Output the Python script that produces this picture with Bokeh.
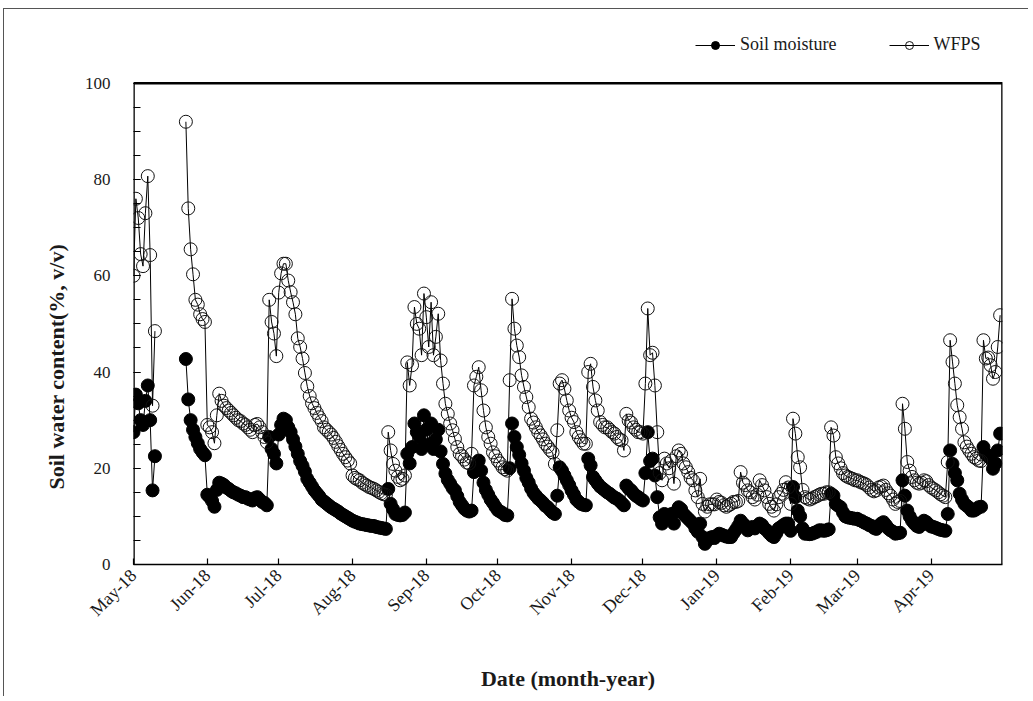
import math
import numpy as np
import pandas as pd
from bokeh.plotting import figure
from bokeh.models import (Range1d, FixedTicker, DatetimeTickFormatter, Legend,
                          LegendItem, Title, ColumnDataSource)
from bokeh.embed import file_html
from bokeh.resources import INLINE

# ---------------- data ----------------
start_a = "2018-05-01"
soil_a = [27.5, 35.3, 33.5, 30, 29, 34, 37.2, 30, 15.4, 22.5]
wfps_a = [60, 76, 72, 64.5, 62, 73, 80.7, 64.3, 33, 48.5]

start_b = "2018-05-23"
soil_b = [
    42.7, 34.3, 30, 28, 26.5, 25.2, 24, 23.3, 22.7, 14.5,
    14, 13.2, 12, 15.5, 17, 16.8, 16.5, 16, 15.7, 15.3,
    15, 14.8, 14.5, 14.3, 14, 14, 13.7, 13.5, 13.3, 13.8,
    14, 13.5, 13, 12.8, 12.3, 26.5, 24, 23, 21, 27,
    29, 30.3, 30, 28.5, 27.5, 26, 24.5, 23, 21.5, 20.5,
    19.3, 17.8, 17, 16.2, 15.4, 14.8, 14.2, 13.5, 13.1, 12.7,
    12.3, 11.9, 11.6, 11.3, 11, 10.6, 10.3, 10, 9.7, 9.4,
    9.1, 8.9, 8.7, 8.5, 8.4, 8.3, 8.2, 8.1, 8, 8,
    7.8, 7.7, 7.6, 7.5, 7.4, 15.7, 12.6, 11.5, 10.5, 10.3,
    10.2, 10.3, 10.8, 23, 21, 24.4, 29.3, 27.5, 26.5, 24,
    31, 28, 25, 29.3, 24, 26, 28, 23.5, 20.9, 18.9,
    17.6, 16.8, 15.9, 15.4, 14.2, 13, 12.3, 11.6, 11.2, 11,
    11.2, 19.2, 20.5, 21.6, 19.5, 17, 15.5, 14.5, 13.5, 12.8,
    12, 11.3, 11, 10.7, 10.3, 10.2, 20, 29.3, 26.5, 24.4,
    22.8, 21, 19.5, 18, 17, 15.8, 14.9, 14.3, 13.7, 13.3,
    12.8, 12.2, 11.9, 11.3, 10.8, 10.5, 14.3, 20.2, 19.5, 18.5,
    17.5, 16.5, 15.4, 14.5, 13.5, 13, 12.6, 12.4, 12.3, 22,
    20.6, 18.2, 17.5, 16.8, 16.2, 15.8, 15.4, 15, 14.7, 14.3,
    13.9, 13.7, 13.3, 12.8, 12.3, 16.4, 15.8, 15.4, 14.8, 14.3,
    14, 13.6, 13.3, 19, 27.5, 21.5, 22, 18.5, 14, 9.8,
    8.5, 10.5, 10, 9.5, 10.5, 8.5, 11, 11.9, 11.5, 10.5,
    10, 9.5, 9, 8.5, 7.5, 6.8, 8.5, 5.7, 4.3, 5,
    5.5, 5.7, 5.5, 6, 6.4, 6.2, 6, 5.8, 5.7, 5.7,
    6.5, 7.2, 8, 9.1, 8.5, 8, 7.1, 7.5, 7.8, 7.5,
    8, 8.5, 8.2, 7.5, 7.1, 6.5, 6, 5.7, 6.5, 7.5,
    7.8, 8.2, 8.5, 8.5, 7, 16.1, 14, 11.2, 10, 7.5,
    6.4, 6.4, 6.3, 6.4, 6.6, 6.8, 7.1, 7.1, 7, 7.1,
    7.3, 14.7, 14.3, 12.6, 12.2, 11.9, 10.8, 10, 9.8, 9.7,
    9.6, 9.5, 9.5, 9.2, 9, 8.7, 8.5, 8.2, 8, 7.6,
    7.4, 8, 8.5, 8.8, 8.2, 7.5, 7.1, 6.8, 6.4, 6.5,
    6.6, 17.5, 14.3, 11.2, 10, 9.1, 8.5, 8, 7.8, 8.5,
    9.1, 8.8, 8.3, 7.9, 7.8, 7.6, 7.4, 7.2, 7.1, 7,
    10.5, 23.7, 20.9, 19, 17.5, 14.7, 13.5, 12.6, 12.2, 11.8,
    11.2, 11.2, 11.5, 11.9, 12, 24.4, 23, 22.5, 22, 19.9,
    21, 23.7, 27.2,
]
wfps_b = [
    92, 74, 65.5, 60.3, 55, 54, 52, 51, 50.4, 29,
    28.5, 27.5, 25.2, 31, 35.5, 34, 33, 32.5, 32, 31.5,
    31, 30.5, 30, 29.8, 29.3, 29, 28.5, 28, 27.5, 29,
    29.2, 28.5, 27.5, 26.5, 25.4, 55, 50.4, 48, 43.3, 56.5,
    60.5, 62.5, 62.5, 59, 56.6, 54.5, 52, 47, 45.2, 42.8,
    39.8, 37, 35, 33.5, 32.5, 31.5, 30.6, 29.8, 28.5, 28,
    27.5, 27, 26.3, 25.5, 24.6, 23.8, 23, 22.3, 21.6, 21,
    18.5, 18, 17.7, 17.5, 17, 16.7, 16.4, 16.1, 15.9, 15.7,
    15.4, 15.1, 14.8, 14.6, 14.5, 27.5, 23.7, 20.9, 19.5, 18.2,
    17.5, 17.8, 18.5, 42, 37.2, 41.4, 53.5, 50, 49, 43.5,
    56.3, 51.4, 45.2, 54.5, 43.5, 47.3, 52.1, 42.4, 37.6, 33.4,
    31.3, 29.3, 27.9, 26.1, 24.4, 23, 22.5, 21.8, 21.2, 21,
    23, 37.2, 39, 41, 36.2, 32, 28.5, 26.5, 25.1, 23.3,
    22.5, 21.6, 21, 20.2, 19.8, 19.5, 38.3, 55.2, 49, 45.5,
    43.1, 39.3, 36.9, 34.8, 32.7, 30.3, 29.5, 28.5, 27.5, 26.8,
    26, 25.1, 24.5, 23.8, 23.3, 20.9, 27.9, 37.6, 38.3, 36.5,
    34.1, 32, 30.5, 29.6, 27.5, 26.5, 25.8, 25.1, 25.1, 40,
    41.7, 36.9, 34.1, 32, 29.6, 29, 28.5, 28.5, 28, 27.5,
    27.2, 26.5, 26, 25.8, 23.7, 31.3, 29.9, 29.5, 28.5, 28,
    27.5, 27.5, 27.2, 37.6, 53.2, 43.5, 44, 37.2, 27.5, 19,
    17.5, 22, 21, 20, 21.6, 16.8, 22.5, 23.7, 23, 21,
    20.2, 19.2, 18, 17.5, 15.4, 14, 17.8, 12.6, 11, 12,
    12.5, 12.5, 12.5, 13.5, 13, 12.8, 12.3, 12, 12.3, 12.6,
    13, 13, 13.2, 19.2, 17, 16.5, 15.4, 15, 14, 13.5,
    14.5, 17.5, 16.5, 15.4, 14, 12.6, 12, 11.2, 12.5, 14,
    14.7, 15.5, 17.1, 16, 12.6, 30.3, 27.2, 22.3, 20.2, 15.5,
    14, 13.7, 13.5, 13.7, 14, 14.2, 14.5, 14.7, 14.7, 15,
    15, 28.5, 26.8, 22.3, 21, 20, 19, 18.5, 18.2, 18,
    17.8, 17.5, 17.5, 17.2, 17, 16.8, 16.5, 16, 15.5, 15.2,
    15.4, 16, 16.2, 16.4, 15.5, 14.8, 14.3, 13.5, 12.6, 13,
    13.2, 33.4, 28.2, 21.3, 19.5, 18.2, 17.5, 17, 16.8, 17,
    17.5, 17.3, 16.5, 16, 15.7, 15.4, 15, 14.6, 14.3, 14,
    21.3, 46.6, 42.1, 37.6, 33.1, 30.6, 28.2, 25.4, 24.5, 23.7,
    23, 22.3, 22, 21.6, 21.5, 46.6, 42.8, 43, 41.4, 38.6,
    40, 45.2, 51.8,
]

tick_months = ["2018-05-01", "2018-06-01", "2018-07-01", "2018-08-01", "2018-09-01",
               "2018-10-01", "2018-11-01", "2018-12-01", "2019-01-01", "2019-02-01",
               "2019-03-01", "2019-04-01"]
y_ticks = [0, 20, 40, 60, 80, 100]
y_max = 100
x_start, x_end = pd.Timestamp("2018-05-01"), pd.Timestamp("2019-05-01")

# ---------------- build sources ----------------
dates_a = pd.date_range(start_a, periods=len(soil_a), freq="D")
dates_b = pd.date_range(start_b, periods=len(soil_b), freq="D")
gap_date = dates_a[-1] + pd.Timedelta(days=1)

x_all = list(dates_a) + [gap_date] + list(dates_b)
soil_all = list(soil_a) + [np.nan] + list(soil_b)
wfps_all = list(wfps_a) + [np.nan] + list(wfps_b)
src = ColumnDataSource(dict(x=x_all, soil=soil_all, wfps=wfps_all))

SERIF = "Liberation Serif"
INK = "#1a1a1a"

# The frame reaches up above the 0-100 box so that the legend sits inside it;
# the box itself (top and right edges, left axis line) is drawn as a line.
p = figure(width=1025, height=688, x_axis_type="datetime",
           output_backend="svg", toolbar_location=None,
           x_range=Range1d(x_start, x_end),
           y_range=Range1d(0, 112),
           min_border_left=129, min_border_right=27,
           min_border_top=16, min_border_bottom=133,
           background_fill_color="white", border_fill_color="white",
           styles={"margin-left": "3px", "margin-top": "8px",
                   "border-left": "1px solid #555", "border-top": "1px solid #555"})

p.xgrid.grid_line_color = None
p.ygrid.grid_line_color = None
p.outline_line_color = None

# x axis
p.xaxis.ticker = FixedTicker(ticks=[pd.Timestamp(m).value // 10**6 for m in tick_months])
fmt = "%b-%y"
p.xaxis.formatter = DatetimeTickFormatter(
    milliseconds=fmt, seconds=fmt, minsec=fmt, minutes=fmt, hourmin=fmt, hours=fmt,
    days=fmt, months=fmt, years=fmt)
p.xaxis.major_label_orientation = math.pi / 4
p.xaxis.major_tick_in = 6
p.xaxis.major_tick_out = 0
p.xaxis.major_label_standoff = 8
p.xaxis.axis_label = "Date (month-year)"
p.xaxis.axis_label_standoff = 36

# y axis
p.yaxis.ticker = FixedTicker(ticks=y_ticks, minor_ticks=list(range(0, 101, 5)))
p.yaxis.major_tick_in = 7
p.yaxis.major_tick_out = 0
p.yaxis.minor_tick_in = 7
p.yaxis.minor_tick_out = 0
p.yaxis.major_label_standoff = 23

for ax in (p.xaxis, p.yaxis):
    ax.axis_line_color = "black"
    ax.axis_line_width = 1.3
    ax.major_tick_line_color = "black"
    ax.major_tick_line_width = 1.2
    ax.minor_tick_line_color = "black"
    ax.minor_tick_line_width = 1.2
    ax.major_label_text_font = SERIF
    ax.major_label_text_color = INK
    ax.axis_label_text_font = SERIF
    ax.axis_label_text_font_style = "bold"
    ax.axis_label_text_font_size = "22px"
    ax.axis_label_text_color = INK
p.xaxis.minor_tick_line_color = None
p.yaxis.axis_line_color = None
p.xaxis.major_label_text_font_size = "18px"
p.yaxis.major_label_text_font_size = "17px"

# plot box (left edge, top edge, right edge of the 0-100 area)
p.line(x=[x_start, x_start, x_end, x_end], y=[0, y_max, y_max, 0],
       line_color="black", line_width=2.6)

# glyphs
l_soil = p.line("x", "soil", source=src, line_color="black", line_width=1)
l_wfps = p.line("x", "wfps", source=src, line_color="black", line_width=1)
s_soil = p.scatter("x", "soil", source=src, marker="circle", size=13,
                   fill_color="black", line_color="black", line_width=1)
s_wfps = p.scatter("x", "wfps", source=src, marker="circle", size=13,
                   fill_color=None, line_color="#111111", line_width=1)

legend = Legend(items=[LegendItem(label="Soil moisture", renderers=[l_soil, s_soil]),
                       LegendItem(label="WFPS", renderers=[l_wfps, s_wfps])],
                orientation="horizontal", location=(562, 509),
                padding=0, margin=0, spacing=52,
                glyph_width=40, glyph_height=20, label_standoff=5,
                label_text_font=SERIF, label_text_font_size="18px",
                label_text_color=INK,
                background_fill_alpha=0, border_line_alpha=0)
p.add_layout(legend)

ytitle = Title(text="Soil water content(%, v/v)", align="left", offset=75,
               vertical_align="bottom", standoff=26,
               text_font=SERIF, text_font_style="bold", text_font_size="22px",
               text_color=INK)
p.add_layout(ytitle, "left")

open("out.html", "w").write(file_html(p, INLINE))
